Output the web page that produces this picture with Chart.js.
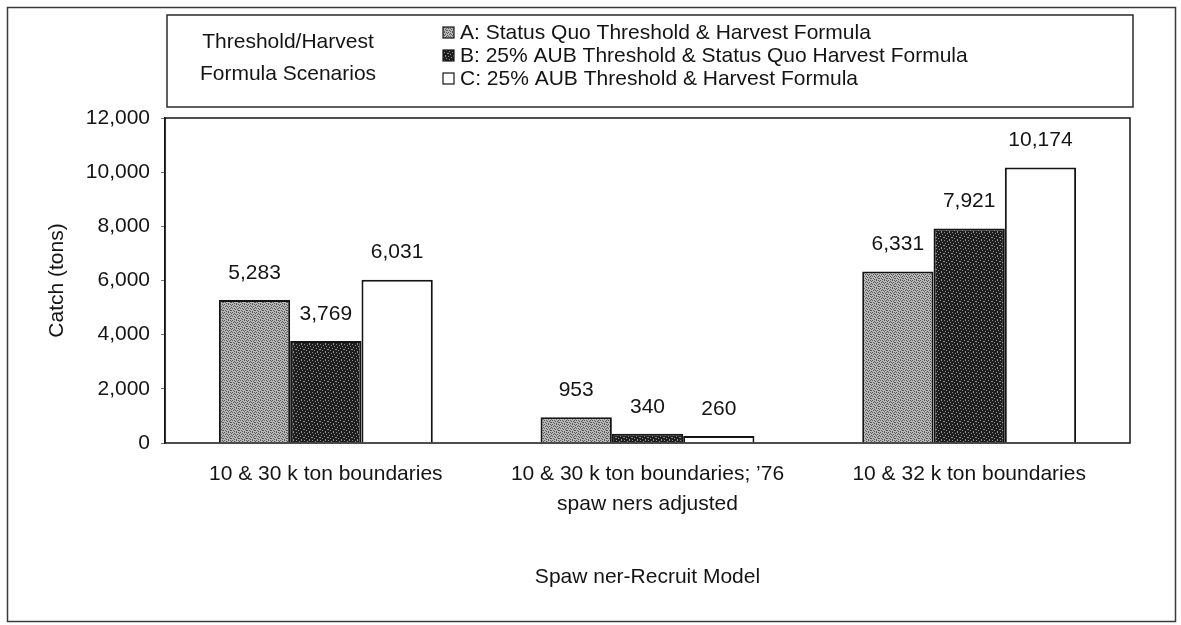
<!DOCTYPE html>
<html>
<head>
<meta charset="utf-8">
<script src="https://cdn.jsdelivr.net/npm/chart.js@4.4.1/dist/chart.umd.min.js"></script>
<style>
  html, body { margin: 0; padding: 0; background: #ffffff; }
  canvas { display: block; }
</style>
</head>
<body>
<canvas id="catchChart" width="1181" height="625"></canvas>
<script>
// Spawner-recruit model variants (category axis)
const categories = [
  '10 & 30 k ton boundaries',
  ['10 & 30 k ton boundaries; \u201976', 'spaw ners adjusted'],
  '10 & 32 k ton boundaries'
];

// Threshold / harvest formula scenarios
const scenarioNames = [
  'A: Status Quo Threshold & Harvest Formula',
  'B: 25% AUB Threshold & Status Quo Harvest Formula',
  'C: 25% AUB Threshold & Harvest Formula'
];

// Catch (tons) per scenario
const statusQuo    = [5283, 953, 6331];
const aubThreshold = [3769, 340, 7921];
const aubBoth      = [6031, 260, 10174];

const yTicks = [0, 2000, 4000, 6000, 8000, 10000, 12000];
const legendTitle = ['Threshold/Harvest', 'Formula Scenarios'];
const yTitle = 'Catch (tons)';
const xTitle = 'Spaw ner-Recruit Model';

const FONT = "'Liberation Sans', Arial, Helvetica, sans-serif";
const INK = '#141414';

// Small stipple tiles so the shaded bars look like printed screens
function stipple(base, speck, rows) {
  const tile = document.createElement('canvas');
  tile.width = rows[0].length;
  tile.height = rows.length;
  const g = tile.getContext('2d');
  g.fillStyle = base;
  g.fillRect(0, 0, tile.width, tile.height);
  g.fillStyle = speck;
  rows.forEach((row, y) => {
    for (let x = 0; x < row.length; x++) {
      if (row[x] === '1') g.fillRect(x, y, 1, 1);
    }
  });
  return g.createPattern(tile, 'repeat');
}

const lightScreen = stipple('#b6b6b6', '#5a5a5a', [
  '10001010',
  '00100001',
  '01010100',
  '00001001',
  '10100010',
  '00010100',
  '01000011',
  '00101000'
]);
const darkScreen = stipple('#1e1e1e', '#8e8e8e', [
  '10000100',
  '00010000',
  '00000010',
  '01000000',
  '00001000',
  '10000001',
  '00100000',
  '00000100'
]);
const fills = [lightScreen, darkScreen, '#ffffff'];

const fmt = v => v.toLocaleString('en-US');

// Page frame, plot border, legend box and value labels
const decorations = {
  id: 'decorations',
  beforeDraw(chart) {
    const ctx = chart.ctx;
    ctx.save();
    ctx.fillStyle = '#ffffff';
    ctx.fillRect(0, 0, chart.width, chart.height);
    ctx.strokeStyle = '#3a3a3a';
    ctx.lineWidth = 1.5;
    ctx.strokeRect(7.5, 7.5, 1168, 614);
    ctx.restore();
  },
  afterDatasetsDraw(chart) {
    const ctx = chart.ctx;
    const a = chart.chartArea;
    ctx.save();
    // plot border
    ctx.strokeStyle = INK;
    ctx.lineWidth = 1.5;
    ctx.strokeRect(a.left, a.top, a.right - a.left, a.bottom - a.top);

    // value labels above the bars
    ctx.fillStyle = INK;
    ctx.font = '21px ' + FONT;
    ctx.textAlign = 'center';
    ctx.textBaseline = 'middle';
    chart.data.datasets.forEach((ds, i) => {
      chart.getDatasetMeta(i).data.forEach((bar, j) => {
        ctx.fillText(fmt(ds.data[j]), bar.x, bar.y - 27);
      });
    });

    // legend box
    const box = { x: 167, y: 15, w: 966, h: 92 };
    ctx.lineWidth = 1.5;
    ctx.strokeStyle = '#2a2a2a';
    ctx.strokeRect(box.x, box.y, box.w, box.h);
    ctx.font = '21px ' + FONT;
    ctx.textAlign = 'center';
    ctx.fillText(legendTitle[0], 288, 42);
    ctx.fillText(legendTitle[1], 288, 74);

    const rows = [32, 55, 78];
    ctx.textAlign = 'left';
    chart.data.datasets.forEach((ds, i) => {
      const y = rows[i];
      ctx.fillStyle = ds.backgroundColor;
      ctx.fillRect(443, y - 5, 11, 11);
      ctx.strokeStyle = INK;
      ctx.lineWidth = 1.2;
      ctx.strokeRect(443, y - 5, 11, 11);
      ctx.fillStyle = INK;
      ctx.fillText(ds.label, 460, y + 1);
    });
    ctx.restore();
  }
};

const datasets = [statusQuo, aubThreshold, aubBoth].map((values, i) => ({
  label: scenarioNames[i],
  data: values,
  backgroundColor: fills[i],
  borderColor: INK,
  borderWidth: 2,
  borderSkipped: 'bottom'
}));

new Chart(document.getElementById('catchChart'), {
  type: 'bar',
  data: { labels: categories, datasets },
  plugins: [decorations],
  options: {
    responsive: false,
    animation: false,
    devicePixelRatio: 1,
    layout: { padding: { top: 118, right: 51, left: 0, bottom: 0 } },
    plugins: {
      legend: { display: false },
      tooltip: { enabled: false },
      title: { display: false }
    },
    datasets: {
      bar: { categoryPercentage: 0.665, barPercentage: 1.0 }
    },
    scales: {
      x: {
        grid: { display: false, drawTicks: false },
        border: { display: false },
        ticks: {
          color: INK,
          padding: 16,
          maxRotation: 0,
          autoSkip: false,
          font: { family: FONT, size: 21, lineHeight: 1.43 }
        },
        title: {
          display: true,
          text: xTitle,
          color: INK,
          font: { family: FONT, size: 21, lineHeight: 1.2 },
          padding: { top: 0, bottom: 35 }
        },
        afterFit(scale) { scale.height = 182; }
      },
      y: {
        min: 0,
        max: 12000,
        afterBuildTicks(scale) { scale.ticks = yTicks.map(v => ({ value: v })); },
        grid: {
          drawOnChartArea: false,
          drawTicks: true,
          tickLength: 4,
          color: '#777777',
          lineWidth: 1
        },
        border: { display: true, color: INK, width: 1.5 },
        ticks: {
          color: INK,
          padding: 11,
          font: { family: FONT, size: 21 },
          callback: v => fmt(v)
        },
        title: {
          display: true,
          text: yTitle,
          color: INK,
          font: { family: FONT, size: 21, lineHeight: 1.2 },
          padding: { top: 45, bottom: 0 }
        },
        afterFit(scale) { scale.width = 165; }
      }
    }
  }
});
</script>
</body>
</html>
